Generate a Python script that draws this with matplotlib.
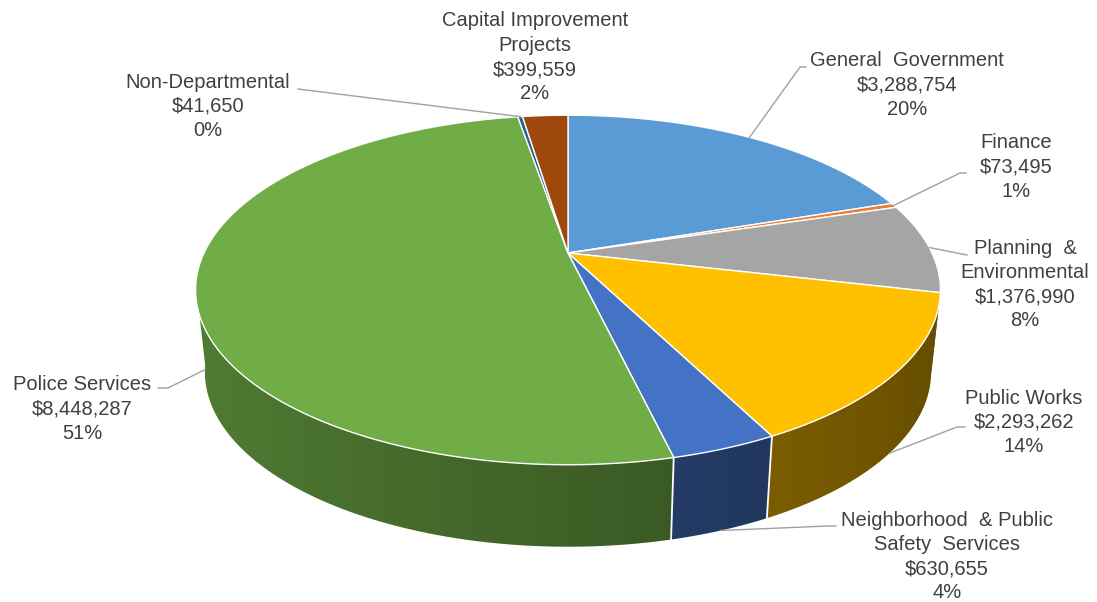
"""
Budget by department - 3D pie
"""

import numpy as np
import matplotlib.pyplot as plt
from matplotlib.patches import Polygon

plt.rcParams['font.family'] = ['Liberation Sans', 'DejaVu Sans']

# 1. data (clockwise from 12 o'clock)
names = ['General  Government', 'Finance', 'Planning  &\nEnvironmental', 'Public Works',
         'Neighborhood  & Public\nSafety  Services', 'Police Services', 'Non-Departmental',
         'Capital Improvement\nProjects']
amounts = [3288754, 73495, 1376990, 2293262, 630655, 8448287, 41650, 399559]
pct_labels = ['20%', '1%', '8%', '14%', '4%', '51%', '0%', '2%']
colors = ['#5B9BD5', '#ED7D31', '#A5A5A5', '#FFC000', '#4472C4', '#70AD47', '#255E91', '#9E480E']

# label centres (first line) and leader line start points, in pixels
label_x = [907, 1016, 1025, 1024, 947, 82, 208, 535]
label_y = [61, 143, 248, 398, 520, 385, 82, 21]
leader_start = [[(806, 67), (800, 67)], [(966, 173), (960, 173)], [(967, 255)],
                [(965, 427), (957, 427)], [(836, 526), (828, 526)], [(158, 388), (168, 388)],
                [(298, 89)], None]

# 2. projection of the top disc
cx, cy = 568, 253          # pie centre on screen
scale = 364
elev = np.radians(27.3)
persp = 0.238
thick = 82                 # wall height in pixels
shrink = 0.975             # bottom rim slightly narrower


def project(theta):
    x = np.cos(theta)
    y = np.sin(theta)
    w = 1 + persp * y * np.cos(elev)
    return cx + scale * x / w, cy - scale * y * np.sin(elev) / w


def bottom(theta):
    x, y = project(theta)
    return cx + (x - cx) * shrink, y + thick


def shade(color, theta):
    rgb = np.array(plt.matplotlib.colors.to_rgb(color))
    k = 0.56 - 0.17 * np.cos(theta)[..., None]
    return np.clip(rgb * k, 0, 1)


total = sum(amounts)
cum = np.concatenate([[0], np.cumsum(amounts)]) / total
t_start = 90 - 360 * cum[:-1]
t_end = 90 - 360 * cum[1:]

fig = plt.figure(figsize=(10.97, 6.02), dpi=100)
ax = fig.add_axes([0, 0, 1, 1])

# screen x -> angle on the front rim (monotonic between the two silhouettes)
rim_t = np.radians(np.linspace(-168, -12, 800))
rim_x, _ = project(rim_t)

# 3. outer walls (front half only), shaded left to right
for i in range(len(amounts)):
    lo = max(t_end[i], -170)
    hi = min(t_start[i], -8)
    if lo >= hi:
        continue
    th = np.radians(np.linspace(lo, hi, max(int((hi - lo) * 2), 2)))
    top_pts = list(zip(*project(th)))
    bot_pts = list(zip(*bottom(th[::-1])))
    wall = Polygon(top_pts + bot_pts, closed=True, facecolor='none', edgecolor='none')
    ax.add_patch(wall)
    xs = np.array([p[0] for p in top_pts + bot_pts])
    ys = np.array([p[1] for p in top_pts + bot_pts])
    gx = np.linspace(xs.min(), xs.max(), 300)
    img = shade(colors[i], np.interp(gx, rim_x, rim_t))[None, :, :]
    im = ax.imshow(img, extent=[xs.min() - 1, xs.max() + 1, ys.max() + 1, ys.min() - 1],
                   aspect='auto', interpolation='bilinear', zorder=1)
    im.set_clip_path(wall)

# white seams between wall pieces
for t in t_end[:-1]:
    if -165 < t < -15:
        x0, y0 = project(np.radians(t))
        x1, y1 = bottom(np.radians(t))
        ax.plot([x0, x1], [y0, y1], color='white', lw=1.3, zorder=1.5)

# 4. top faces
for i in range(len(amounts)):
    th = np.radians(np.linspace(t_start[i], t_end[i], max(int(t_start[i] - t_end[i]) * 2, 3)))
    xs, ys = project(th)
    pts = [(cx, cy)] + list(zip(xs, ys))
    ax.add_patch(Polygon(pts, closed=True, facecolor=colors[i], edgecolor='white',
                         lw=1.0, joinstyle='round', zorder=2))

# 5. labels and leader lines
for i in range(len(amounts)):
    text = names[i] + '\n' + '${:,}'.format(amounts[i]) + '\n' + pct_labels[i]
    for j, line in enumerate(text.split('\n')):
        ax.text(label_x[i], label_y[i] + j * 24.3, line, ha='center', va='center',
                fontsize=14.5, color='#404040', zorder=5)

    if leader_start[i] is None:
        continue
    mid = np.radians((t_start[i] + t_end[i]) / 2)
    ex, ey = bottom(mid) if np.sin(mid) < 0 else project(mid)
    pts = leader_start[i] + [(ex, ey)]
    ax.plot([p[0] for p in pts], [p[1] for p in pts], color='#a0a0a0', lw=1.0, zorder=4)

ax.set_xlim(0, 1097)
ax.set_ylim(602, 0)
ax.axis('off')

plt.savefig('out.png', dpi=100)
